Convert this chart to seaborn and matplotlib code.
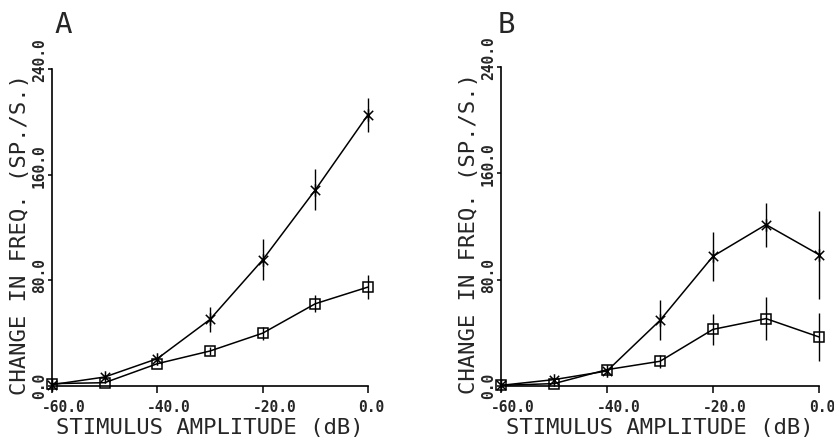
import matplotlib
matplotlib.use("Agg")
import matplotlib.pyplot as plt
from matplotlib.path import Path
from matplotlib.transforms import offset_copy
import numpy as np
import pandas as pd
import seaborn as sns

# Stimulus levels (dB re max) and mean rate changes with their error half-widths
levels = [-60, -50, -40, -30, -20, -10, 0]

a_star = [1.0, 6.8, 20.7, 50.4, 95.5, 148.5, 205.4]
a_star_err = [0.0, 0.0, 0.0, 9.5, 15.5, 15.6, 13.0]
a_square = [1.8, 2.5, 16.9, 26.5, 40.0, 62.3, 74.9]
a_square_err = [0.0, 0.0, 0.0, 3.0, 5.0, 6.5, 9.3]

b_star = [0.5, 4.8, 11.3, 49.4, 97.6, 121.4, 98.8]
b_star_err = [0.0, 0.0, 0.0, 15.0, 18.5, 16.5, 33.0]
b_square = [0.5, 1.8, 12.3, 18.6, 42.6, 50.7, 36.9]
b_square_err = [0.0, 0.0, 0.0, 5.0, 11.5, 16.3, 18.0]

x_ticks = [-60, -40, -20, 0]
x_tick_labels = ["-60.0", "-40.0", "-20.0", "0.0"]
y_ticks = [0, 80, 160, 240]
y_tick_labels = ["0.0", "80.0", "160.0", "240.0"]

x_title = "STIMULUS AMPLITUDE (dB)"
y_title = "CHANGE IN FREQ. (SP./S.)"
panel_names = ["A", "B"]

# plotter-style asterisk: a vertical stroke crossed by an X
star_marker = Path(
    [(0, -1), (0, 1), (-0.75, -0.75), (0.75, 0.75), (-0.75, 0.75), (0.75, -0.75)],
    [Path.MOVETO, Path.LINETO, Path.MOVETO, Path.LINETO, Path.MOVETO, Path.LINETO],
)

sns.set_style("ticks")
plt.rcParams["font.family"] = ["DejaVu Sans Mono"]

W, H = 834, 439
fig = plt.figure(figsize=(W / 100, H / 100), dpi=100)

# axes boxes in pixels: left, right, top, bottom
boxes = [(52, 368, 70, 387), (501, 819, 68, 387)]
letter_pos = [(54, 11), (498, 11)]

panels = [
    (a_star, a_star_err, a_square, a_square_err),
    (b_star, b_star_err, b_square, b_square_err),
]

for (l, r, t, b), (st, st_e, sq, sq_e), name, (lx, ly) in zip(
        boxes, panels, panel_names, letter_pos):
    ax = fig.add_axes([l / W, (H - b) / H, (r - l) / W, (b - t) / H])

    for vals, errs, marker, msize in ((st, st_e, star_marker, 9),
                                      (sq, sq_e, "s", 7)):
        df = pd.DataFrame({"level": levels, "rate": vals, "err": errs})
        sns.lineplot(data=df, x="level", y="rate", color="black", ax=ax,
                     linewidth=1.1, marker=marker, markersize=msize,
                     markerfacecolor="none", markeredgecolor="black",
                     markeredgewidth=1.1)
        ax.errorbar(df["level"], df["rate"], yerr=df["err"], fmt="none",
                    ecolor="black", elinewidth=1.0, capsize=0)

    for line in ax.lines:
        line.set_clip_on(False)
    for coll in ax.collections:
        coll.set_clip_on(False)

    ax.set_xlim(-60, 0)
    ax.set_ylim(0, 240)
    sns.despine(ax=ax)
    for sp in ("left", "bottom"):
        ax.spines[sp].set_linewidth(1.2)
        ax.spines[sp].set_color("black")

    ax.set_xticks(x_ticks)
    ax.set_yticks(y_ticks)
    ax.set_xticklabels([])
    ax.set_yticklabels([])
    ax.tick_params(axis="x", direction="out", length=5, width=1.1, color="black")
    ax.tick_params(axis="y", direction="out", length=3, width=1.1, color="black")

    xt = offset_copy(ax.get_xaxis_transform(), fig=fig, x=-10, y=-13, units="dots")
    for v, s in zip(x_ticks, x_tick_labels):
        ax.text(v, 0, s, transform=xt, ha="left", va="top", fontsize=10.5,
                fontweight="bold", clip_on=False)

    yt = offset_copy(ax.get_yaxis_transform(), fig=fig, x=-5, y=-12, units="dots")
    for v, s in zip(y_ticks, y_tick_labels):
        ax.text(0, v, s, transform=yt, rotation=90, rotation_mode="anchor",
                ha="left", va="bottom", fontsize=10.5, fontweight="bold",
                clip_on=False)

    ax.set_xlabel(x_title, fontsize=16)
    ax.xaxis.set_label_coords(0.5, -31 / (b - t))
    ax.set_ylabel(y_title, fontsize=16)
    ax.yaxis.set_label_coords(-22 / (r - l), 0.48)

    fig.text(lx / W, 1 - ly / H, name, ha="left", va="top", fontsize=21)

fig.savefig("out.png", dpi=100)
